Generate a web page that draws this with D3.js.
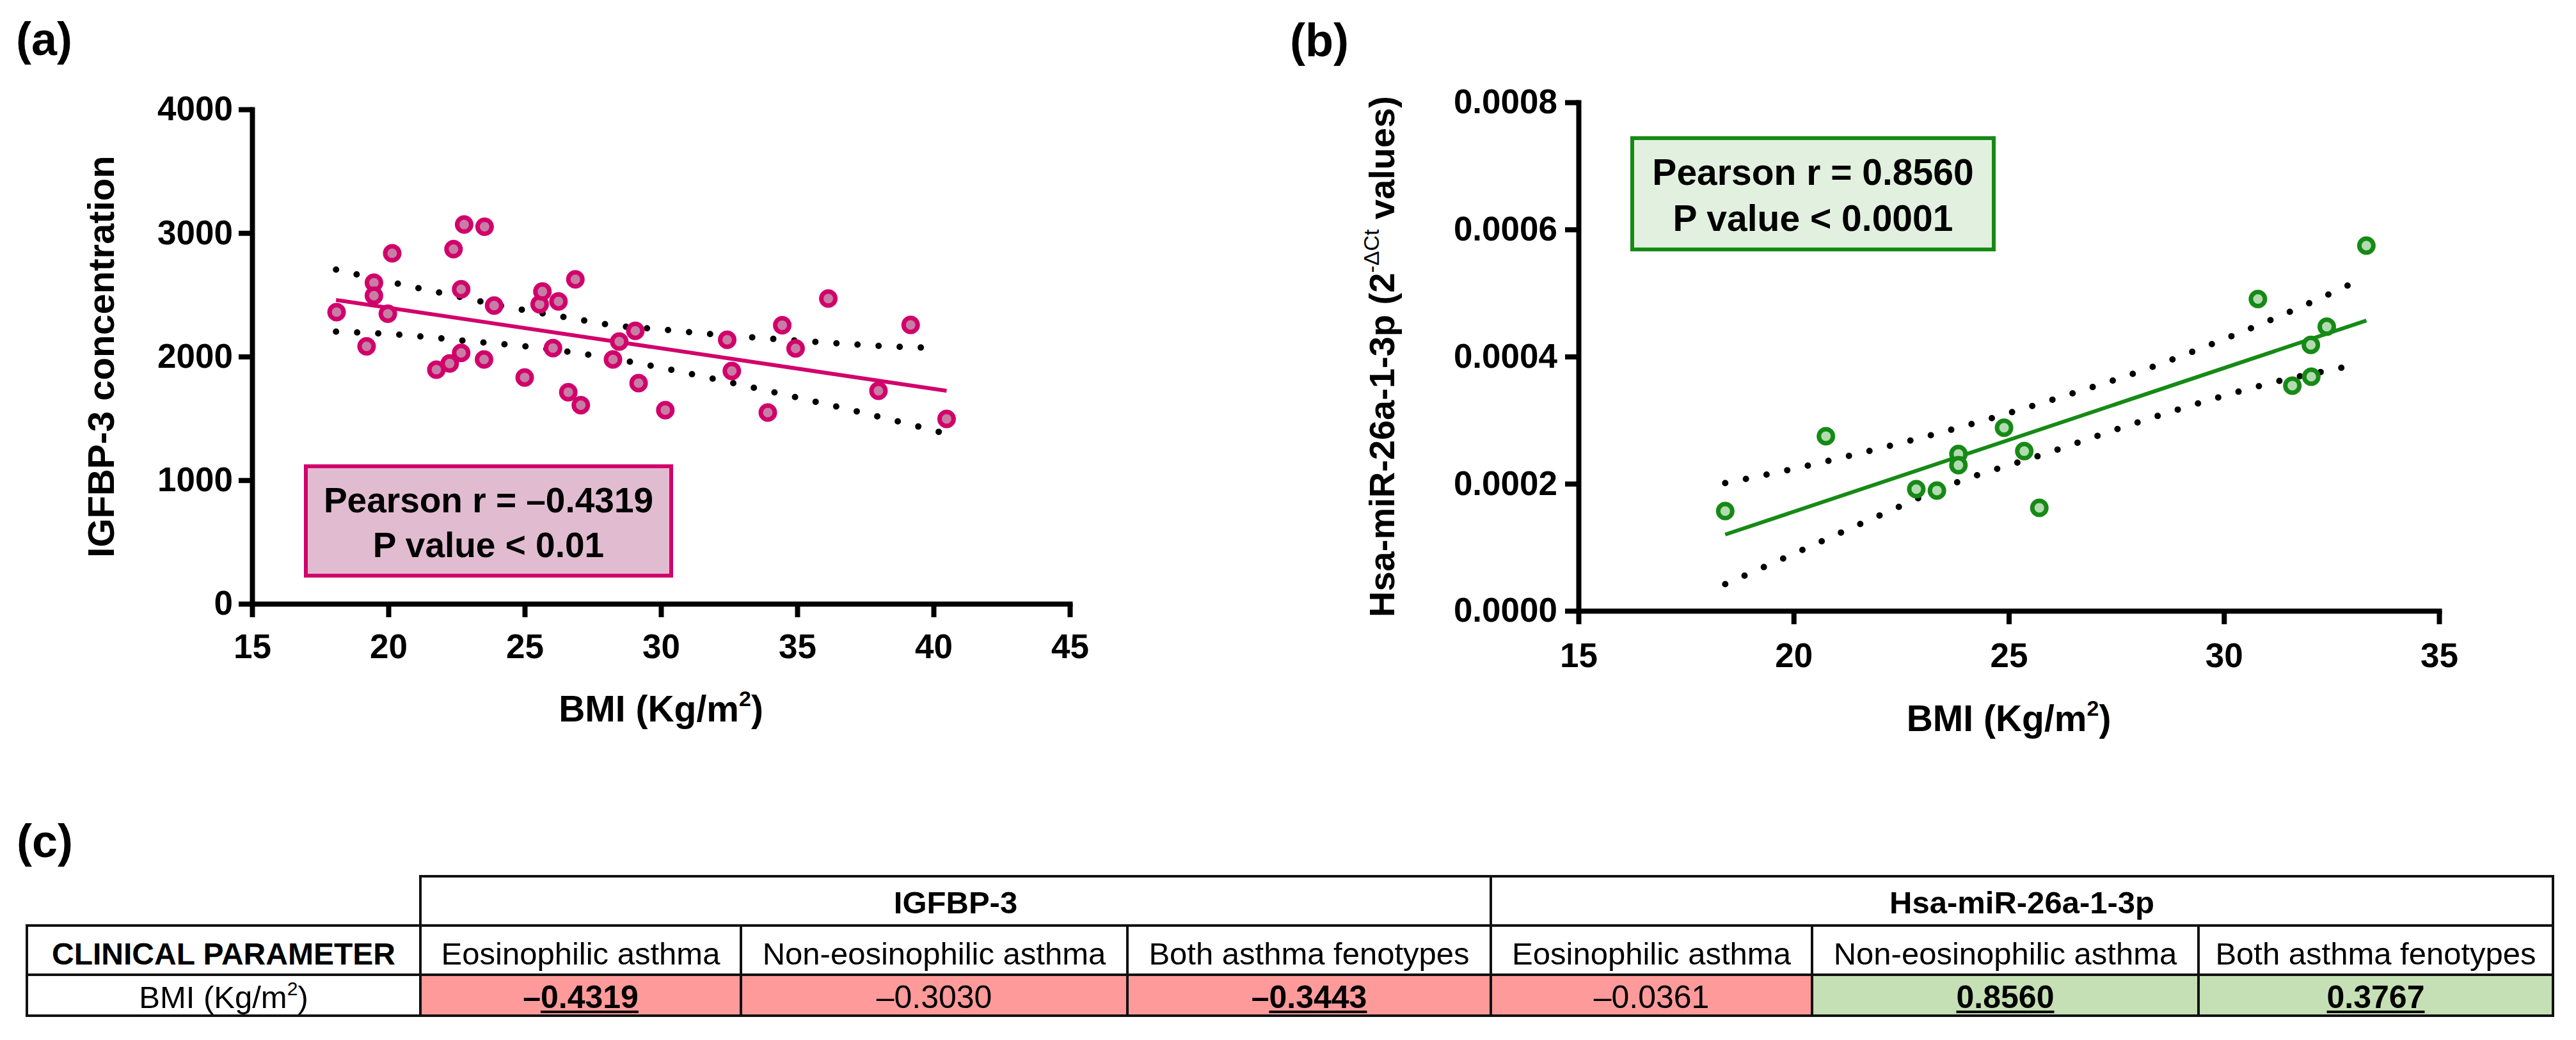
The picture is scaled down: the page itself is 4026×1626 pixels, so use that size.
<!DOCTYPE html>
<html>
<head>
<meta charset="utf-8">
<script src="https://cdn.jsdelivr.net/npm/d3@7"></script>
<style>
  body { margin: 0; background: #fff; }
  svg { display: block; }
</style>
</head>
<body>
<div id="chart"></div>
<script>
// ---- panel (a): BMI vs IGFBP-3 ----
const bmiA = [18.1, 19.2, 19.47, 19.47, 19.98, 20.14, 21.76, 22.25, 22.39, 22.67, 22.67, 22.78,
    23.51, 23.53, 23.88, 25.0, 25.55, 25.65, 26.04, 26.24, 26.6, 26.86, 27.06, 28.24, 28.47,
    29.06, 29.18, 30.16, 32.43, 32.6, 33.92, 34.45, 34.94, 36.14, 37.98, 39.16, 40.48];
const igfbpA = [2360, 2083, 2598, 2493, 2347, 2836, 1894, 1944, 2869, 2545, 2030, 3068,
    1977, 3051, 2413, 1831, 2423, 2526, 2069, 2446, 1712, 2625, 1607, 1977, 2122,
    2208, 1785, 1567, 2136, 1884, 1547, 2254, 2066, 2469, 1723, 2256, 1496];
const fitA = [[18.08, 2458], [40.48, 1723]];
const bandAUpper = [[18.08, 2704], [20.5, 2582], [22.0, 2512], [24.4, 2400], [26.8, 2307],
    [28.3, 2251], [29.9, 2222], [31.45, 2189], [33.82, 2148], [36.2, 2111], [38.6, 2080], [40.3, 2069]];
const bandALower = [[18.08, 2202], [20.53, 2175], [22.9, 2126], [25.29, 2076], [27.69, 2003],
    [30.0, 1910], [32.33, 1801], [34.65, 1686], [36.97, 1568], [39.3, 1442], [40.3, 1385]];
const ticksAX = [15, 20, 25, 30, 35, 40, 45];
const ticksAY = [0, 1000, 2000, 3000, 4000];
const statsA = ["Pearson r = \u20130.4319", "P value < 0.01"];

// ---- panel (b): BMI vs Hsa-miR-26a-1-3p ----
const bmiB = [18.41, 20.75, 22.85, 23.33, 23.83, 23.83, 24.89, 25.36, 25.71, 30.79, 31.59,
    32.02, 32.03, 32.39, 33.31];
const mirB = [0.0001569, 0.0002748, 0.0001915, 0.0001893, 0.0002468, 0.0002291, 0.0002880,
    0.0002512, 0.0001621, 0.0004906, 0.0003543, 0.0004184, 0.0003683, 0.0004471, 0.0005746];
const fitB = [[18.41, 0.000120], [33.31, 0.0004567]];
const bandBUpper = [[18.41, 0.000201], [19.97, 0.000223], [22.02, 0.000256], [24.09, 0.000293],
    [26.1, 0.000334], [28.14, 0.000379], [30.1, 0.000430], [32.05, 0.000486], [33.1, 0.000519]];
const bandBLower = [[18.41, 0.000042], [19.88, 0.000086], [21.86, 0.000146], [23.79, 0.000202],
    [25.75, 0.000245], [27.84, 0.000293], [29.83, 0.000335], [31.37, 0.000363], [32.41, 0.000378],
    [33.2, 0.000389]];
const ticksBX = [15, 20, 25, 30, 35];
const ticksBY = [0, 0.0002, 0.0004, 0.0006, 0.0008];
const statsB = ["Pearson r = 0.8560", "P value < 0.0001"];

// ---- panel (c): correlation table ----
const markers = ["IGFBP-3", "Hsa-miR-26a-1-3p"];
const phenotypes = ["Eosinophilic asthma", "Non-eosinophilic asthma", "Both asthma fenotypes"];
const rValues = [-0.4319, -0.3030, -0.3443, -0.0361, 0.8560, 0.3767];
const significant = [true, false, true, false, true, true];

const FONT = "'Liberation Sans', Arial, Helvetica, sans-serif";
const W = 4026, H = 1626;

const svg = d3.select("#chart").append("svg")
    .attr("width", W)
    .attr("height", H)
    .attr("viewBox", "0 0 " + W + " " + H)
    .style("font-family", FONT);

svg.append("rect").attr("width", W).attr("height", H).attr("fill", "#fff");

function panelLabel(txt, x, y) {
    svg.append("text")
        .attr("x", x).attr("y", y)
        .attr("font-size", 72).attr("font-weight", "bold")
        .text(txt);
}

function drawAxes(x, y, xTicks, yTicks, yFmt, xPad, yPad) {
    const gx = svg.append("g")
        .attr("transform", "translate(0," + y.range()[0] + ")")
        .call(d3.axisBottom(x).tickValues(xTicks).tickFormat(d3.format("d"))
            .tickSize(21).tickSizeOuter(0).tickPadding(xPad));
    const gy = svg.append("g")
        .attr("transform", "translate(" + x.range()[0] + ",0)")
        .call(d3.axisLeft(y).tickValues(yTicks).tickFormat(yFmt)
            .tickSize(21).tickSizeOuter(0).tickPadding(yPad));
    [gx, gy].forEach(function (g) {
        g.attr("font-family", FONT).attr("font-size", 53).attr("font-weight", "bold");
        g.select(".domain").attr("stroke", "#000").attr("stroke-width", 8)
            .attr("stroke-linecap", "square");
        g.selectAll(".tick line").attr("stroke", "#000").attr("stroke-width", 8);
        g.selectAll(".tick text").attr("fill", "#000");
    });
}

function drawFit(x, y, fit, upper, lower, color) {
    const line = d3.line()
        .x(function (d) { return x(d[0]); })
        .y(function (d) { return y(d[1]); });
    const band = d3.line()
        .x(function (d) { return x(d[0]); })
        .y(function (d) { return y(d[1]); })
        .curve(d3.curveMonotoneX);
    [upper, lower].forEach(function (b) {
        svg.append("path")
            .attr("d", band(b))
            .attr("fill", "none")
            .attr("stroke", "#000")
            .attr("stroke-width", 10)
            .attr("stroke-linecap", "round")
            .attr("stroke-dasharray", "0 33");
    });
    svg.append("path")
        .attr("d", line(fit))
        .attr("fill", "none")
        .attr("stroke", color)
        .attr("stroke-width", 6);
}

function drawPoints(x, y, xs, ys, stroke, fill) {
    svg.append("g").selectAll("circle")
        .data(xs.map(function (v, i) { return [v, ys[i]]; }))
        .enter().append("circle")
        .attr("cx", function (d) { return x(d[0]); })
        .attr("cy", function (d) { return y(d[1]); })
        .attr("r", 11)
        .attr("fill", fill)
        .attr("stroke", stroke)
        .attr("stroke-width", 7);
}

function statsBox(lines, x, y, w, h, stroke, fill, size, base1, base2) {
    svg.append("rect")
        .attr("x", x).attr("y", y).attr("width", w).attr("height", h)
        .attr("fill", fill).attr("stroke", stroke).attr("stroke-width", 6);
    [base1, base2].forEach(function (b, i) {
        svg.append("text")
            .attr("x", x + w / 2).attr("y", b)
            .attr("text-anchor", "middle")
            .attr("font-size", size).attr("font-weight", "bold")
            .text(lines[i]);
    });
}

function bmiTitle(cx, y) {
    const t = svg.append("text")
        .attr("x", cx).attr("y", y)
        .attr("text-anchor", "middle")
        .attr("font-size", 57).attr("font-weight", "bold");
    t.append("tspan").text("BMI (Kg/m");
    t.append("tspan").attr("font-size", 34).attr("dy", -24).text("2");
    t.append("tspan").attr("dy", 24).text(")");
}

// ---------- (a) ----------
const xA = d3.scaleLinear().domain([15, 45]).range([394, 1672]);
const yA = d3.scaleLinear().domain([0, 4000]).range([944, 171]);
const magenta = "#d1006b";

panelLabel("(a)", 25, 86);
drawFit(xA, yA, fitA, bandAUpper, bandALower, magenta);
drawPoints(xA, yA, bmiA, igfbpA, magenta, "#c67ea4");
drawAxes(xA, yA, ticksAX, ticksAY, d3.format("d"), 26, 9);
statsBox(statsA, 478, 729, 571, 171, magenta, "#e1bcd0", 55, 801, 871);

svg.append("text")
    .attr("transform", "translate(178," + (yA.range()[0] + yA.range()[1]) / 2 + ") rotate(-90)")
    .attr("text-anchor", "middle")
    .attr("font-size", 58).attr("font-weight", "bold")
    .text("IGFBP-3 concentration");
bmiTitle((xA.range()[0] + xA.range()[1]) / 2, 1128);

// ---------- (b) ----------
const xB = d3.scaleLinear().domain([15, 35]).range([2467, 3812]);
const yB = d3.scaleLinear().domain([0, 0.0008]).range([955, 160]);
const green = "#168a16";

panelLabel("(b)", 2016, 88);
drawFit(xB, yB, fitB, bandBUpper, bandBLower, green);
drawPoints(xB, yB, bmiB, mirB, green, "#b3dbb0");
drawAxes(xB, yB, ticksBX, ticksBY, d3.format(".4f"), 29, 12);
statsBox(statsB, 2551, 216, 565, 174, green, "#e2f1df", 57, 289, 361);

const yTitleB = svg.append("text")
    .attr("transform", "translate(2179," + (yB.range()[0] + yB.range()[1]) / 2 + ") rotate(-90)")
    .attr("text-anchor", "middle")
    .attr("font-size", 56).attr("font-weight", "bold");
yTitleB.append("tspan").text("Hsa-miR-26a-1-3p (2");
yTitleB.append("tspan").attr("font-size", 34).attr("font-weight", "normal").attr("dy", -24)
    .text("-\u0394Ct");
yTitleB.append("tspan").attr("dy", 24).text(" values)");
bmiTitle((xB.range()[0] + xB.range()[1]) / 2, 1143);

// ---------- (c) table ----------
panelLabel("(c)", 26, 1340);

const colEdges = [42, 657, 1158, 1762, 2330, 2832, 3436, 3990];
const rowEdges = [1370, 1447, 1524, 1588];
const tbl = svg.append("g");

function fmtR(v) {
    return (v < 0 ? "\u2013" : "") + Math.abs(v).toFixed(4);
}

// value cell fills
tbl.selectAll("rect.cell")
    .data(rValues)
    .enter().append("rect")
    .attr("class", "cell")
    .attr("x", function (d, i) { return colEdges[i + 1]; })
    .attr("y", rowEdges[2])
    .attr("width", function (d, i) { return colEdges[i + 2] - colEdges[i + 1]; })
    .attr("height", rowEdges[3] - rowEdges[2])
    .attr("fill", function (d) { return d < 0 ? "#ff9a9a" : "#c5e0b4"; });

// grid lines
const segs = [
    [colEdges[1], rowEdges[0], colEdges[7], rowEdges[0]],
    [colEdges[0], rowEdges[1], colEdges[7], rowEdges[1]],
    [colEdges[0], rowEdges[2], colEdges[7], rowEdges[2]],
    [colEdges[0], rowEdges[3], colEdges[7], rowEdges[3]],
    [colEdges[0], rowEdges[1], colEdges[0], rowEdges[3]],
    [colEdges[1], rowEdges[0], colEdges[1], rowEdges[3]],
    [colEdges[4], rowEdges[0], colEdges[4], rowEdges[3]],
    [colEdges[7], rowEdges[0], colEdges[7], rowEdges[3]],
    [colEdges[2], rowEdges[1], colEdges[2], rowEdges[3]],
    [colEdges[3], rowEdges[1], colEdges[3], rowEdges[3]],
    [colEdges[5], rowEdges[1], colEdges[5], rowEdges[3]],
    [colEdges[6], rowEdges[1], colEdges[6], rowEdges[3]]
];
tbl.selectAll("line")
    .data(segs)
    .enter().append("line")
    .attr("x1", function (d) { return d[0]; })
    .attr("y1", function (d) { return d[1]; })
    .attr("x2", function (d) { return d[2]; })
    .attr("y2", function (d) { return d[3]; })
    .attr("stroke", "#111")
    .attr("stroke-width", 4)
    .attr("stroke-linecap", "square");

// group headers
markers.forEach(function (m, i) {
    tbl.append("text")
        .attr("x", (colEdges[1 + 3 * i] + colEdges[4 + 3 * i]) / 2)
        .attr("y", 1428)
        .attr("text-anchor", "middle")
        .attr("font-size", 49).attr("font-weight", "bold")
        .text(m);
});

// sub headers
tbl.append("text")
    .attr("x", (colEdges[0] + colEdges[1]) / 2).attr("y", 1508)
    .attr("text-anchor", "middle")
    .attr("font-size", 48).attr("font-weight", "bold")
    .text("CLINICAL PARAMETER");
d3.range(6).forEach(function (i) {
    tbl.append("text")
        .attr("x", (colEdges[i + 1] + colEdges[i + 2]) / 2).attr("y", 1508)
        .attr("text-anchor", "middle")
        .attr("font-size", 49)
        .text(phenotypes[i % 3]);
});

// value row
const rowLab = tbl.append("text")
    .attr("x", (colEdges[0] + colEdges[1]) / 2).attr("y", 1576)
    .attr("text-anchor", "middle")
    .attr("font-size", 49);
rowLab.append("tspan").text("BMI (Kg/m");
rowLab.append("tspan").attr("font-size", 30).attr("dy", -20).text("2");
rowLab.append("tspan").attr("dy", 20).text(")");

rValues.forEach(function (v, i) {
    const cx = (colEdges[i + 1] + colEdges[i + 2]) / 2;
    const t = tbl.append("text")
        .attr("x", cx).attr("y", 1576)
        .attr("text-anchor", "middle")
        .attr("font-size", 50)
        .attr("font-weight", significant[i] ? "bold" : "normal")
        .text(fmtR(v));
    if (significant[i]) {
        const node = t.node();
        const w = node.getComputedTextLength();
        const skip = v < 0 ? node.getSubStringLength(0, 1) : 0;
        tbl.append("line")
            .attr("x1", cx - w / 2 + skip)
            .attr("x2", cx + w / 2)
            .attr("y1", 1582).attr("y2", 1582)
            .attr("stroke", "#000")
            .attr("stroke-width", 4);
    }
});
</script>
</body>
</html>
